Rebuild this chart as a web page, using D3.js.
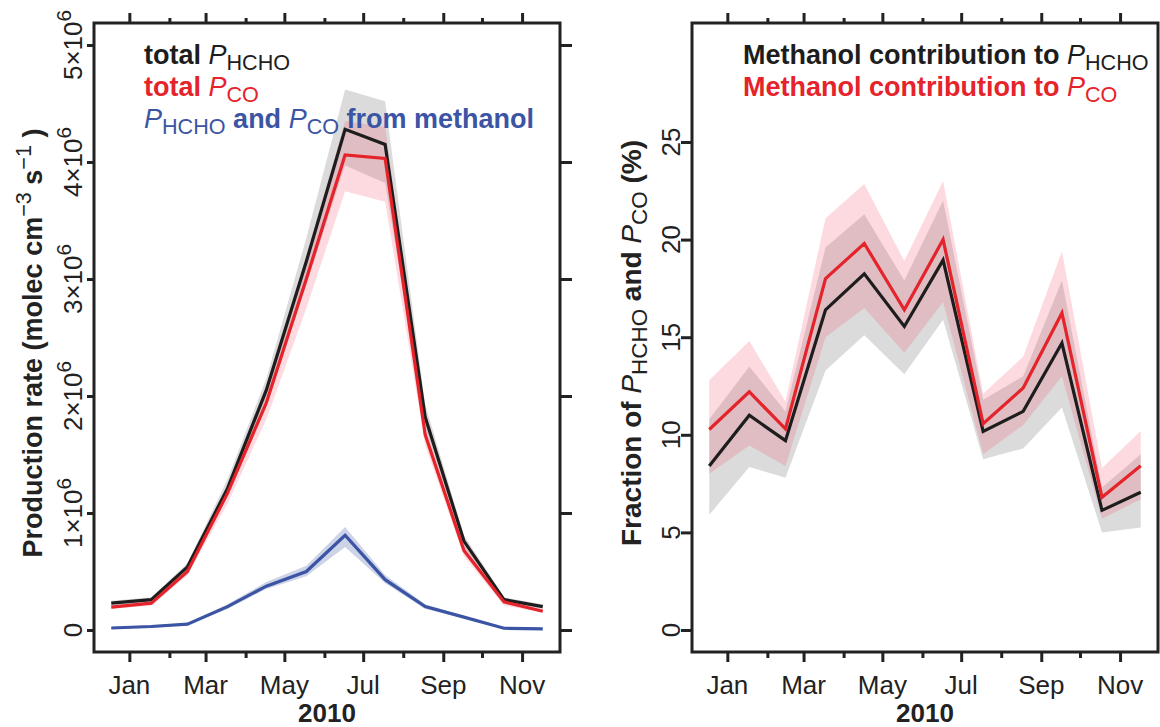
<!DOCTYPE html>
<html>
<head>
<meta charset="utf-8">
<script src="https://cdn.jsdelivr.net/npm/d3@7"></script>
<style>
  body { margin: 0; background: #fff; }
  svg { display: block; }
  text { font-family: "Liberation Sans", Arial, Helvetica, sans-serif; white-space: pre; }
</style>
</head>
<body>
<svg id="chart" width="1160" height="727"></svg>
<script>
// ---- data: monthly values for 2010 (plotted on the first day of each month) ----
const dates = ["2010-01-01","2010-02-01","2010-03-01","2010-04-01","2010-05-01","2010-06-01",
               "2010-07-01","2010-08-01","2010-09-01","2010-10-01","2010-11-01","2010-12-01"];

// production rates, molec cm^-3 s^-1
const pHCHO      = [0.23e6, 0.26e6, 0.54e6, 1.21e6, 2.05e6, 3.15e6, 4.28e6, 4.15e6, 1.82e6, 0.76e6, 0.26e6, 0.20e6];
const pHCHO_lo   = [0.21e6, 0.24e6, 0.51e6, 1.14e6, 1.95e6, 2.95e6, 3.97e6, 3.82e6, 1.74e6, 0.71e6, 0.24e6, 0.18e6];
const pHCHO_hi   = [0.25e6, 0.28e6, 0.57e6, 1.29e6, 2.15e6, 3.35e6, 4.62e6, 4.52e6, 1.93e6, 0.81e6, 0.28e6, 0.22e6];
const pCO        = [0.195e6, 0.23e6, 0.50e6, 1.17e6, 1.94e6, 3.00e6, 4.06e6, 4.03e6, 1.67e6, 0.68e6, 0.24e6, 0.16e6];
const pCO_lo     = [0.18e6, 0.21e6, 0.47e6, 1.08e6, 1.80e6, 2.75e6, 3.75e6, 3.66e6, 1.58e6, 0.63e6, 0.21e6, 0.15e6];
const pCO_hi     = [0.21e6, 0.25e6, 0.53e6, 1.24e6, 2.05e6, 3.20e6, 4.35e6, 4.30e6, 1.76e6, 0.73e6, 0.25e6, 0.18e6];
const pMeOH      = [0.017e6, 0.03e6, 0.05e6, 0.20e6, 0.375e6, 0.50e6, 0.81e6, 0.43e6, 0.20e6, 0.11e6, 0.015e6, 0.01e6];
const pMeOH_lo   = [0.010e6, 0.02e6, 0.04e6, 0.18e6, 0.35e6, 0.46e6, 0.71e6, 0.40e6, 0.18e6, 0.10e6, 0.010e6, 0.005e6];
const pMeOH_hi   = [0.025e6, 0.04e6, 0.06e6, 0.22e6, 0.41e6, 0.55e6, 0.88e6, 0.47e6, 0.22e6, 0.12e6, 0.022e6, 0.017e6];

// methanol fraction of production, %
const fracHCHO    = [8.4, 11.0, 9.7, 16.4, 18.25, 15.55, 18.95, 10.17, 11.2, 14.7, 6.13, 7.06];
const fracHCHO_lo = [5.9, 8.35, 7.8, 13.3, 15.1, 13.1, 15.9, 8.75, 9.3, 11.4, 5.0, 5.25];
const fracHCHO_hi = [10.8, 13.5, 11.2, 19.6, 21.3, 17.9, 22.0, 11.8, 13.0, 17.9, 7.3, 9.0];
const fracCO      = [10.27, 12.2, 10.3, 18.0, 19.8, 16.4, 20.0, 10.57, 12.4, 16.24, 6.8, 8.42];
const fracCO_lo   = [8.0, 9.45, 8.4, 15.0, 16.5, 14.2, 16.8, 9.0, 10.5, 13.0, 5.7, 6.7];
const fracCO_hi   = [12.8, 14.8, 11.7, 21.1, 22.85, 18.9, 23.0, 12.1, 14.0, 19.4, 8.3, 10.2];

// axis ticks
const monthTicks  = ["2010-01-15","2010-02-15","2010-03-15","2010-04-15","2010-05-15","2010-06-15",
                     "2010-07-15","2010-08-15","2010-09-15","2010-10-15","2010-11-15"];
const monthLabels = ["Jan","","Mar","","May","","Jul","","Sep","","Nov"];
const rateTicks   = [0, 1e6, 2e6, 3e6, 4e6, 5e6];
const fracTicks   = [0, 5, 10, 15, 20, 25];

// ---- styling ----
const COL_BLACK = "#1d1d1d", COL_RED = "#e4232b", COL_BLUE = "#3b54a4", COL_AXIS = "#222";
const FS = 26;          // tick label size
const FS_LEG = 27;      // legend / title size
const SUB = 0.8;        // sub/superscript scale

const parse = d3.timeParse("%Y-%m-%d");
const t = dates.map(parse);
const ticksMajor = monthTicks.map(parse).filter((d, i) => monthLabels[i] !== "");
const ticksMinor = monthTicks.map(parse).filter((d, i) => monthLabels[i] === "");
const labelsMajor = monthLabels.filter(s => s !== "");

// x-range padded by 4% of the data span on both sides
const span = t[t.length - 1] - t[0];
const xDomain = [new Date(+t[0] - 0.04 * span), new Date(+t[t.length - 1] + 0.04 * span)];

const svg = d3.select("#chart");

// rich text: segments with bold / italic / sub / sup
function richText(parent, x, y, segs, o) {
  const g = parent.append("g")
    .attr("transform", `translate(${x},${y})` + (o.rotate ? ` rotate(${o.rotate})` : ""));
  const txt = g.append("text")
    .attr("text-anchor", o.anchor || "start")
    .attr("font-size", o.size)
    .attr("fill", o.color || COL_AXIS);
  let shift = 0;
  segs.forEach(s => {
    const sp = txt.append("tspan").text(s.t)
      .attr("font-weight", s.b ? "bold" : "normal");
    if (s.i) sp.attr("font-style", "italic");
    const target = s.sub ? o.size * 0.22 : s.sup ? -o.size * 0.42 : 0;
    if (target !== shift) { sp.attr("dy", target - shift); shift = target; }
    if (s.sub || s.sup) sp.attr("font-size", o.size * SUB);
  });
  return g;
}

function band(g, x, y, lo, hi, fill) {
  const area = d3.area().x((d, i) => x(t[i])).y0((d, i) => y(lo[i])).y1((d, i) => y(hi[i]));
  g.append("path").datum(lo).attr("d", area).attr("fill", fill).attr("stroke", "none");
}
function line(g, x, y, vals, color) {
  const ln = d3.line().x((d, i) => x(t[i])).y(d => y(d));
  g.append("path").datum(vals).attr("d", ln).attr("fill", "none")
    .attr("stroke", color).attr("stroke-width", 3.2).attr("stroke-linejoin", "miter");
}

function styleAxis(sel) {
  sel.select(".domain").remove();
  sel.selectAll(".tick line").attr("stroke", COL_AXIS).attr("stroke-width", 3);
  sel.selectAll(".tick text").remove();
}

function panel(opt) {
  const { left, right, top, bottom, y } = opt;
  const x = d3.scaleTime().domain(xDomain).range([left, right]);
  const g = svg.append("g");

  // uncertainty bands, then lines
  opt.bands.forEach(b => band(g, x, y, b.lo, b.hi, b.fill));
  opt.lines.forEach(l => line(g, x, y, l.v, l.c));

  // bottom axis: labelled major ticks and short minor ticks
  const bMaj = g.append("g").attr("transform", `translate(0,${bottom})`)
    .call(d3.axisBottom(x).tickValues(ticksMajor).tickSize(10).tickFormat(""));
  styleAxis(bMaj);
  const bMin = g.append("g").attr("transform", `translate(0,${bottom})`)
    .call(d3.axisBottom(x).tickValues(ticksMinor).tickSize(6).tickFormat(""));
  styleAxis(bMin);
  // top axis
  const tMaj = g.append("g").attr("transform", `translate(0,${top})`)
    .call(d3.axisTop(x).tickValues(ticksMajor).tickSize(10).tickFormat(""));
  styleAxis(tMaj);
  const tMin = g.append("g").attr("transform", `translate(0,${top})`)
    .call(d3.axisTop(x).tickValues(ticksMinor).tickSize(5).tickFormat(""));
  styleAxis(tMin);

  ticksMajor.forEach((d, i) => {
    richText(g, x(d), bottom + 42, [{ t: labelsMajor[i] }], { size: FS, anchor: "middle" });
  });
  richText(g, (left + right) / 2, bottom + 70, [{ t: "2010", b: true }], { size: FS, anchor: "middle" });

  // left axis
  const la = g.append("g").attr("transform", `translate(${left},0)`)
    .call(d3.axisLeft(y).tickValues(opt.yTicks).tickSize(opt.leftTick).tickFormat(""));
  styleAxis(la);
  opt.yTicks.forEach(v => {
    richText(g, left - 12, y(v), opt.yLabel(v), { size: FS, anchor: "middle", rotate: -90 });
  });
  if (opt.rightTicks) {
    const ra = g.append("g").attr("transform", `translate(${right},0)`)
      .call(d3.axisRight(y).tickValues(opt.yTicks).tickSize(12).tickFormat(""));
    styleAxis(ra);
  }

  // frame
  g.append("rect").attr("x", left).attr("y", top).attr("width", right - left).attr("height", bottom - top)
    .attr("fill", "none").attr("stroke", COL_AXIS).attr("stroke-width", 3);

  // y title
  richText(g, opt.titleX, 343, opt.title, { size: opt.titleSize, anchor: "middle", rotate: -90 });

  // legend
  opt.legend.forEach((row, i) => {
    richText(g, opt.legendX, 64 + i * 32, row.segs, { size: FS_LEG, color: row.c });
  });
}

const P = [{ t: "P", i: true }];

// left: production rates
panel({
  left: 94, right: 560, top: 23, bottom: 652,
  y: d3.scaleLinear().domain([0, 5e6]).range([630, 45]),
  yTicks: rateTicks,
  leftTick: 7, rightTicks: true,
  yLabel: v => v === 0 ? [{ t: "0" }] : [{ t: `${v / 1e6}\u00d710` }, { t: "6", sup: true }],
  bands: [
    { lo: pHCHO_lo, hi: pHCHO_hi, fill: "rgba(0,0,0,0.14)" },
    { lo: pCO_lo, hi: pCO_hi, fill: "rgba(240,70,100,0.2)" },
    { lo: pMeOH_lo, hi: pMeOH_hi, fill: "rgba(59,84,164,0.25)" }
  ],
  lines: [{ v: pHCHO, c: COL_BLACK }, { v: pCO, c: COL_RED }, { v: pMeOH, c: COL_BLUE }],
  titleX: 42, titleSize: FS_LEG,
  title: [{ t: "Production rate (molec cm", b: true }, { t: "\u22123", sup: true },
          { t: " s", b: true }, { t: "\u22121", sup: true }, { t: " )", b: true }],
  legendX: 144,
  legend: [
    { c: COL_BLACK, segs: [{ t: "total ", b: true }, ...P, { t: "HCHO", sub: true }] },
    { c: COL_RED, segs: [{ t: "total ", b: true }, ...P, { t: "CO", sub: true }] },
    { c: COL_BLUE, segs: [...P, { t: "HCHO", sub: true }, { t: " and ", b: true }, ...P,
                          { t: "CO", sub: true }, { t: " from methanol", b: true }] }
  ]
});

// right: methanol fraction
panel({
  left: 692, right: 1158, top: 23, bottom: 652,
  y: d3.scaleLinear().domain([0, 25]).range([630, 142]),
  yTicks: fracTicks,
  leftTick: 11, rightTicks: false,
  yLabel: v => [{ t: String(v) }],
  bands: [
    { lo: fracHCHO_lo, hi: fracHCHO_hi, fill: "rgba(0,0,0,0.14)" },
    { lo: fracCO_lo, hi: fracCO_hi, fill: "rgba(240,70,100,0.2)" }
  ],
  lines: [{ v: fracHCHO, c: COL_BLACK }, { v: fracCO, c: COL_RED }],
  titleX: 641, titleSize: 28,
  title: [{ t: "Fraction of ", b: true }, ...P, { t: "HCHO", sub: true }, { t: " and ", b: true },
          ...P, { t: "CO", sub: true }, { t: " (%)", b: true }],
  legendX: 743,
  legend: [
    { c: COL_BLACK, segs: [{ t: "Methanol contribution to ", b: true }, ...P, { t: "HCHO", sub: true }] },
    { c: COL_RED, segs: [{ t: "Methanol contribution to ", b: true }, ...P, { t: "CO", sub: true }] }
  ]
});
</script>
</body>
</html>
